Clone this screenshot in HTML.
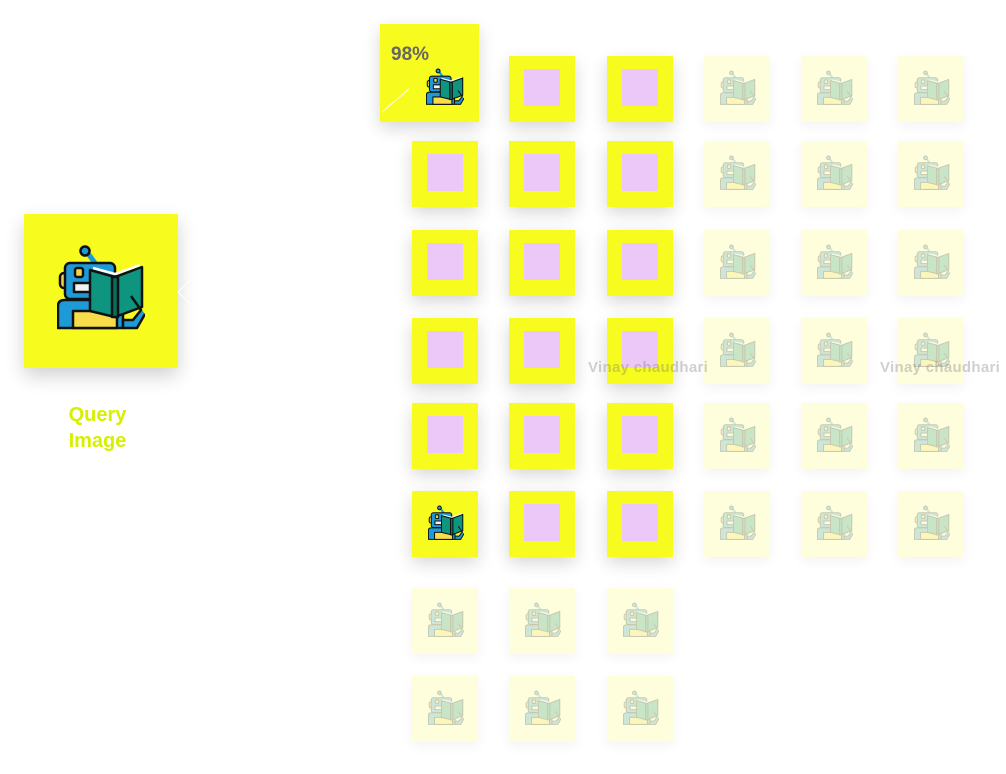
<!DOCTYPE html>
<html><head><meta charset="utf-8">
<style>
html,body{margin:0;padding:0;background:#fff;width:1006px;height:774px;overflow:hidden;position:relative;font-family:"Liberation Sans",sans-serif}
.tile{position:absolute;width:66px;height:66px;box-shadow:0 6px 16px rgba(0,0,0,0.16)}
.y{background:#f8fb1e}
.f{background:#fefedc;box-shadow:0 4px 12px rgba(0,0,0,0.05)}
.pink{position:absolute;left:15px;top:13px;width:36px;height:37px;background:#ebc8f7}
.ico{position:absolute;left:16px;top:14px;width:36px;height:36px}
.f .ico{opacity:0.22}
.wm{position:absolute;font-weight:bold;font-size:15px;letter-spacing:0.3px;color:rgba(120,120,120,0.35);white-space:nowrap}
</style></head>
<body>
<svg width="0" height="0" style="position:absolute">
<defs>
<g id="robot" stroke="#111" stroke-width="2.5" stroke-linejoin="round">
<line x1="30" y1="8" x2="38" y2="19" stroke="#1e9bd7" stroke-width="5"/>
<circle cx="28" cy="7" r="4.5" fill="#1e9bd7"/>
<rect x="3" y="29" width="8" height="15" rx="4" fill="#f5d445"/>
<rect x="8" y="19" width="50" height="36" rx="5" fill="#1e9bd7"/>
<rect x="18" y="24" width="8" height="9" rx="2" fill="#f5d445"/>
<rect x="17" y="39" width="17" height="9" fill="#f2f2f2"/>
<path d="M1 84 V62 Q1 56 8 56 H60 Q66 56 66 62 V84 Z" fill="#1e9bd7"/>
<rect x="16" y="67" width="44" height="17" fill="#f9dc4a"/>
<path d="M33 26 L58 33 L58 73 L33 67 Z" fill="#0e9580"/>
<path d="M58 33 L85 23 L85 63 L58 73 Z" fill="#0e9580"/>
<path d="M36 24 L58 30 L83 21" fill="none" stroke="#fff" stroke-width="2.5"/>
<rect x="55" y="33" width="6" height="40" fill="#06705f"/>
<path d="M74 52 L84 66 L76 76 L66 76 L66 84 L80 84 L88 70" fill="#1e9bd7"/>
</g>
</defs>
</svg>

<div style="position:absolute;left:24px;top:214px;width:154px;height:154px;background:#f8fb1e;box-shadow:0 8px 18px rgba(0,0,0,0.18)">
<svg style="position:absolute;left:33px;top:30px" width="88" height="88" viewBox="0 0 88 88"><use href="#robot"/></svg>
</div>
<svg style="position:absolute;left:176px;top:272px" width="20" height="40"><path d="M18 4 L2 20 L18 36" stroke="#fff" stroke-width="1" fill="none"/></svg>
<div style="position:absolute;left:40px;top:402px;width:115px;text-align:center;color:#d6f000;font-weight:bold;font-size:20px;line-height:26px">Query<br>Image</div>

<div style="position:absolute;left:380px;top:24px;width:99px;height:98px;background:#f8fb1e;box-shadow:0 6px 16px rgba(0,0,0,0.16)">
<div style="position:absolute;left:11px;top:20px;font-weight:bold;font-size:19px;color:#666">98%</div>
<svg style="position:absolute;left:46px;top:44px" width="38" height="38" viewBox="0 0 88 88"><use href="#robot"/></svg>
<svg style="position:absolute;left:0;top:60px" width="35" height="40"><line x1="2" y1="28" x2="29" y2="5" stroke="#fff" stroke-width="1"/></svg>
</div>

<div id="grid"></div>

<div class="wm" style="left:588px;top:359px">Vinay chaudhari</div>
<div class="wm" style="left:880px;top:359px">Vinay chaudhari</div>

<script>
const colX = [412, 509, 607, 704, 801, 898];
const rowY = [56, 141, 230, 318, 403, 491, 588, 676];
// per row: states by column: p=pink, r=robot yellow, f=faded, x=none/skip
const rowStates = ["xppfff","pppfff","pppfff","pppfff","pppfff","rppfff","fff","fff"];
const grid = document.getElementById('grid');
rowStates.forEach((states, ri) => {
  states.split('').forEach((s, ci) => {
    if (s === 'x') return;
    const t = document.createElement('div');
    t.className = 'tile ' + (s === 'f' ? 'f' : 'y');
    t.style.left = colX[ci] + 'px';
    t.style.top = rowY[ri] + 'px';
    
    
    if (s === 'p') {
      t.innerHTML = '<div class="pink"></div>';
    } else {
      t.innerHTML = '<svg class="ico" viewBox="0 0 88 88"><use href="#robot"/></svg>';
    }
    grid.appendChild(t);
  });
});
</script>
</body></html>
